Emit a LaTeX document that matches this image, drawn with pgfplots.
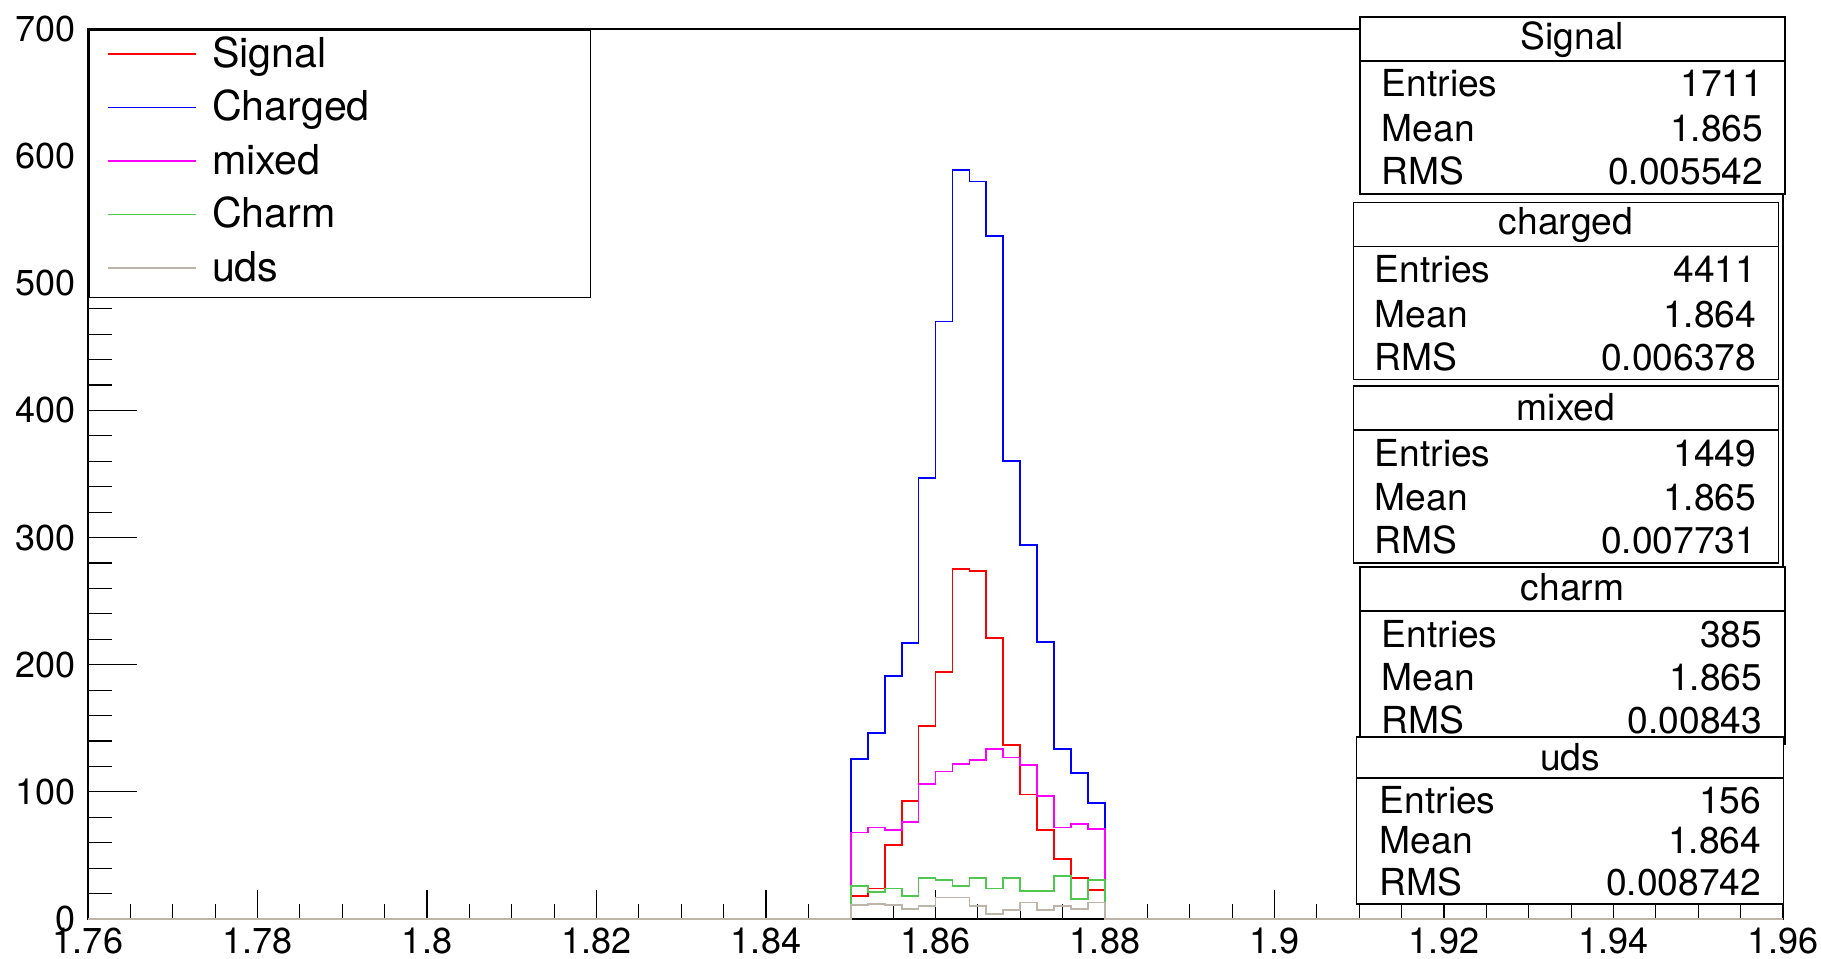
\documentclass[border=0pt]{standalone}
\usepackage{pgfplots}
\pgfplotsset{compat=1.18}
\usepackage{fontspec}
\setmainfont{TeX Gyre Heros}
\definecolor{rootred}{RGB}{255,0,0}
\definecolor{rootblue}{RGB}{0,0,255}
\definecolor{rootmagenta}{RGB}{255,0,255}
\definecolor{rootgreen}{RGB}{80,200,80}
\definecolor{rootuds}{RGB}{190,180,170}
\newcommand{\statbox}[9]{%
  \filldraw[fill=white, draw=black, line width=0.35pt] (#1,#3) rectangle (#2,#5);
  \draw[line width=0.35pt] (#1,#4) -- (#2,#4);
  \node[anchor=base, inner sep=0pt] at ({(#1+#2)/2},#7) {#6};
}
\newcommand{\statrow}[4]{%
  \node[anchor=base west, inner sep=0pt] at (#1,#3) {#4};
}
\newcommand{\statnum}[3]{%
  \node[anchor=base east, inner sep=0pt] at (#1,#2) {#3};
}
\begin{document}
\begin{tikzpicture}
\begin{axis}[
  name=ax,
  scale only axis, width=423.75pt, height=222.5pt,
  xmin=1.76, xmax=1.96, ymin=0, ymax=700,
  xtick={1.76,1.78,1.8,1.82,1.84,1.86,1.88,1.9,1.92,1.94,1.96},
  ytick={0,100,200,300,400,500,600,700},
  minor x tick num=3, minor y tick num=4,
  tick pos=left, tick align=inside,
  axis line style={line width=0.3pt},
  tick style={black, line width=0.3pt},
  x tick style={/pgfplots/major tick length=7.25pt, /pgfplots/minor tick length=3.75pt},
  y tick style={/pgfplots/major tick length=12.25pt, /pgfplots/minor tick length=6pt},
  /pgf/number format/assume math mode=true,
  scaled ticks=false,
  tick label style={font=\fontsize{9}{10}\selectfont, inner sep=0pt},
  xticklabel style={yshift=-2pt},
  yticklabel style={xshift=-3pt},
  clip=false,
  legend cell align=left,
  legend style={at={(0,1)}, anchor=north west, draw=black, line width=0.42pt,
    inner xsep=4.5pt, inner ysep=0pt, column sep=3.85pt, row sep=0pt,
    font=\fontsize{10.3}{12}\selectfont,
    nodes={inner sep=0pt, text height=9.3pt, text depth=4.075pt}},
  legend image code/.code={\draw[#1, line width=0.45pt] (0pt,0.65pt) -- (22pt,0.65pt);},
]
\addplot[const plot, color=rootred, line width=0.45pt] coordinates {
 (1.850,0) (1.850,18) (1.852,24) (1.854,58) (1.856,93) (1.858,152) (1.860,194)
 (1.862,275) (1.864,274) (1.866,221) (1.868,137) (1.870,98) (1.872,70)
 (1.874,47) (1.876,32) (1.878,23) (1.880,0)};
\addlegendentry{\makebox[90.15pt][l]{Signal}}
\addplot[const plot, color=rootblue, line width=0.45pt] coordinates {
 (1.850,0) (1.850,126) (1.852,146) (1.854,191) (1.856,217) (1.858,347) (1.860,470)
 (1.862,589) (1.864,580) (1.866,537) (1.868,360) (1.870,294) (1.872,218)
 (1.874,134) (1.876,115) (1.878,91) (1.880,0)};
\addlegendentry{\makebox[90.15pt][l]{Charged}}
\addplot[const plot, color=rootmagenta, line width=0.45pt] coordinates {
 (1.850,0) (1.850,68) (1.852,72) (1.854,70) (1.856,76) (1.858,106) (1.860,116)
 (1.862,122) (1.864,125) (1.866,134) (1.868,127) (1.870,121) (1.872,97)
 (1.874,72) (1.876,75) (1.878,71) (1.880,0)};
\addlegendentry{\makebox[90.15pt][l]{mixed}}
\addplot[const plot, color=rootgreen, line width=0.45pt] coordinates {
 (1.850,0) (1.850,26) (1.852,21) (1.854,24) (1.856,18) (1.858,32) (1.860,31)
 (1.862,26) (1.864,32) (1.866,24) (1.868,32) (1.870,22) (1.872,22)
 (1.874,34) (1.876,16) (1.878,31) (1.880,0)};
\addlegendentry{\makebox[90.15pt][l]{Charm}}
\addplot[const plot, color=rootuds, line width=0.45pt] coordinates {
 (1.760,0) (1.850,11) (1.852,12) (1.854,11) (1.856,8) (1.858,10) (1.860,17)
 (1.862,17) (1.864,10) (1.866,4) (1.868,7) (1.870,13) (1.872,7)
 (1.874,10) (1.876,8) (1.878,13) (1.880,0) (1.960,0)};
\addlegendentry{\makebox[90.15pt][l]{uds}}
\end{axis}
\begin{scope}[shift={(ax.south west)}, xshift=-22pt, yshift=229.75pt, x=0.25pt, y=-0.25pt, font=\fontsize{9.3}{11}\selectfont]
\path (0,0) rectangle (1821,958);
% Signal
\statbox{1360}{1785}{17}{61}{194}{Signal}{49}{}{}
\statrow{1381}{}{96}{Entries}\statnum{1764}{96}{1711}
\statrow{1381}{}{141}{Mean}\statnum{1764}{141}{1.865}
\statrow{1381}{}{184}{RMS}\statnum{1764}{184}{0.005542}
% charged
\statbox{1353.5}{1778.5}{202.5}{246.5}{379.5}{charged}{234}{}{}
\statrow{1374}{}{282}{Entries}\statnum{1757}{282}{4411}
\statrow{1374}{}{327}{Mean}\statnum{1757}{327}{1.864}
\statrow{1374}{}{370}{RMS}\statnum{1757}{370}{0.006378}
% mixed
\statbox{1353.5}{1778.5}{386}{430}{563}{mixed}{420}{}{}
\statrow{1374}{}{466}{Entries}\statnum{1757}{466}{1449}
\statrow{1374}{}{510}{Mean}\statnum{1757}{510}{1.865}
\statrow{1374}{}{553}{RMS}\statnum{1757}{553}{0.007731}
% charm
\statbox{1360}{1785}{567}{611}{744}{charm}{600}{}{}
\statrow{1381}{}{647}{Entries}\statnum{1763}{647}{385}
\statrow{1381}{}{690}{Mean}\statnum{1763}{690}{1.865}
\statrow{1381}{}{733}{RMS}\statnum{1763}{733}{0.00843}
% uds
\statbox{1356.5}{1783.5}{737}{778}{904}{uds}{770}{}{}
\statrow{1379}{}{813}{Entries}\statnum{1762}{813}{156}
\statrow{1379}{}{853}{Mean}\statnum{1762}{853}{1.864}
\statrow{1379}{}{895}{RMS}\statnum{1762}{895}{0.008742}
\end{scope}
\end{tikzpicture}
\end{document}
